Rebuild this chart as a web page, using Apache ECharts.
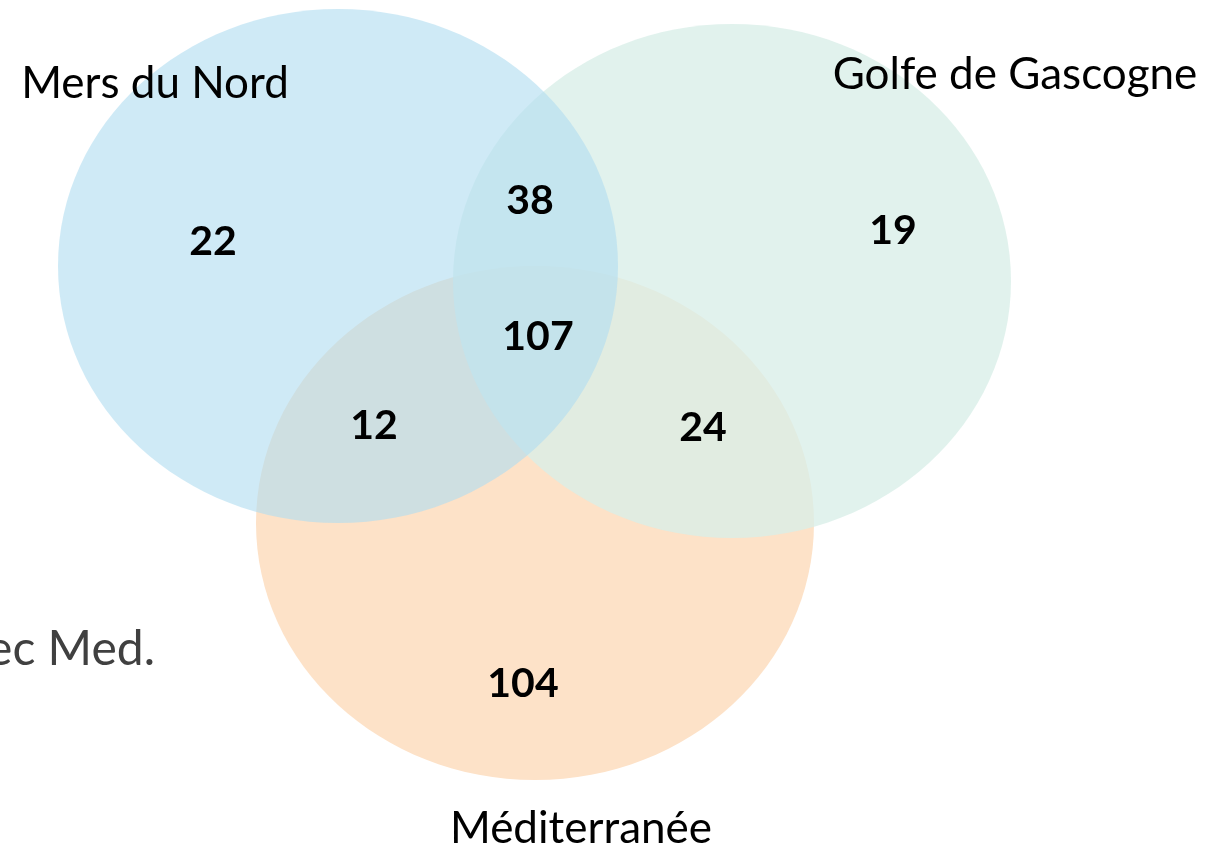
<!DOCTYPE html>
<html>
<head>
<meta charset="utf-8">
<title>Venn</title>
<script src="https://cdn.jsdelivr.net/npm/echarts@6/dist/echarts.min.js"></script>
<style>
  html, body { margin: 0; padding: 0; background: #ffffff; }
  #main { width: 1226px; height: 849px; }
</style>
</head>
<body>
<div id="main"></div>
<script>
// sets and counts
var setNames = ['Mers du Nord', 'Golfe de Gascogne', 'Méditerranée'];
var regionNames = ['Nord', 'Nord+Gascogne', 'Gascogne', 'Tous', 'Nord+Med', 'Gascogne+Med', 'Med'];
var regionCounts = [22, 38, 19, 107, 12, 24, 104];
var sideNote = 'ec Med.';

// layout (same units as the hidden axes, 0..1226 x 0..849)
var setLayout = [
    { cx: 338, cy: 266, rx: 280, ry: 257, fill: 'rgba(178,221,240,0.62)', z: 3 },
    { cx: 732, cy: 281, rx: 279, ry: 257, fill: 'rgba(217,238,232,0.78)', z: 2 },
    { cx: 535, cy: 523, rx: 279, ry: 257, fill: 'rgb(253,226,200)', z: 1 }
];
var setLabelPos = [[155, 84], [1015, 75], [581, 829]];
var regionPos = [[213, 242], [530, 201], [893, 231], [538, 337], [374, 426], [703, 428], [523, 684]];
var notePos = [155, 650];

var FONT = 'Lato, "Open Sans", sans-serif';

var chart = echarts.init(document.getElementById('main'));

var ellipseData = setNames.map(function (n, i) {
    var l = setLayout[i];
    return { name: n, value: [l.cx, l.cy, l.rx, l.ry, i] };
});
// draw bottom first
ellipseData.sort(function (a, b) { return setLayout[a.value[4]].z - setLayout[b.value[4]].z; });

var option = {
    animation: false,
    backgroundColor: '#ffffff',
    grid: { left: 0, right: 0, top: 0, bottom: 0 },
    xAxis: { type: 'value', min: 0, max: 1226, show: false },
    yAxis: { type: 'value', min: 0, max: 849, inverse: true, show: false },
    series: [
        {
            type: 'custom',
            coordinateSystem: 'cartesian2d',
            data: ellipseData,
            renderItem: function (params, api) {
                var c = api.coord([api.value(0), api.value(1)]);
                var s = api.size([api.value(2), api.value(3)]);
                var idx = api.value(4);
                return {
                    type: 'ellipse',
                    shape: { cx: c[0], cy: c[1], rx: s[0], ry: s[1] },
                    style: { fill: setLayout[idx].fill, stroke: null }
                };
            },
            z: 1
        },
        {
            type: 'custom',
            coordinateSystem: 'cartesian2d',
            data: setNames.map(function (n, i) {
                return { name: n, value: [setLabelPos[i][0], setLabelPos[i][1]] };
            }),
            renderItem: function (params, api) {
                var c = api.coord([api.value(0), api.value(1)]);
                return {
                    type: 'text',
                    x: c[0], y: c[1],
                    style: {
                        text: setNames[params.dataIndex],
                        fill: '#000000',
                        font: '44px ' + FONT,
                        align: 'center',
                        verticalAlign: 'middle'
                    }
                };
            },
            z: 5
        },
        {
            type: 'custom',
            coordinateSystem: 'cartesian2d',
            data: regionCounts.map(function (v, i) {
                return { name: regionNames[i], value: [regionPos[i][0], regionPos[i][1], v] };
            }),
            renderItem: function (params, api) {
                var c = api.coord([api.value(0), api.value(1)]);
                return {
                    type: 'text',
                    x: c[0], y: c[1],
                    style: {
                        text: String(api.value(2)),
                        fill: '#000000',
                        font: 'bold 41px ' + FONT,
                        align: 'center',
                        verticalAlign: 'middle'
                    }
                };
            },
            z: 5
        },
        {
            type: 'custom',
            coordinateSystem: 'cartesian2d',
            data: [{ name: sideNote, value: notePos }],
            renderItem: function (params, api) {
                var c = api.coord([api.value(0), api.value(1)]);
                return {
                    type: 'text',
                    x: c[0], y: c[1],
                    style: {
                        text: sideNote,
                        fill: '#404040',
                        font: '48px ' + FONT,
                        align: 'right',
                        verticalAlign: 'middle'
                    }
                };
            },
            z: 5
        }
    ]
};

chart.setOption(option);
</script>
</body>
</html>
